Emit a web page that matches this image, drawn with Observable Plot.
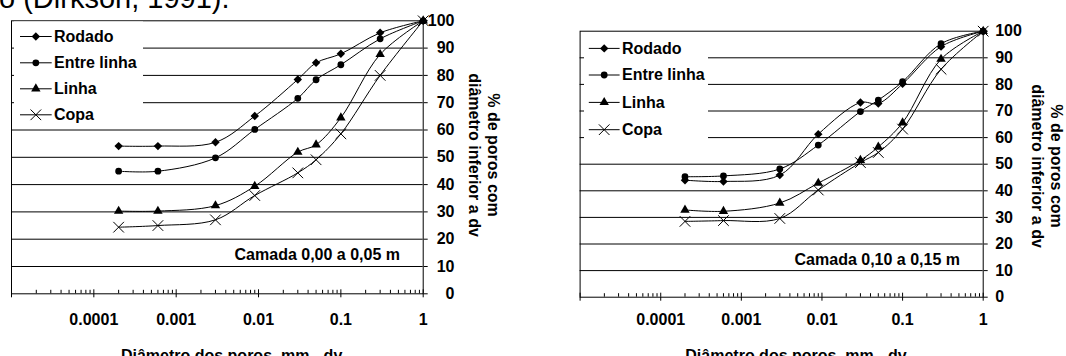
<!DOCTYPE html>
<html><head><meta charset="utf-8">
<script src="https://cdn.jsdelivr.net/npm/d3@7"></script>
<script src="https://cdn.jsdelivr.net/npm/@observablehq/plot@0.6"></script>
<style>
html,body{margin:0;padding:0;background:#fff;}
#wrap{position:relative;width:1066px;height:356px;overflow:hidden;background:#fff;}
#wrap > svg{position:absolute;top:0;}
</style></head><body><div id="wrap"></div>
<script>
// ---- data ----
const diametros = [0.0002, 0.0006, 0.003, 0.009, 0.03, 0.05, 0.1, 0.3, 1];
const series = ["Rodado", "Entre linha", "Linha", "Copa"];
// Camada 0,00 a 0,05 m
const rodadoA = [54.1, 54.1, 55.5, 65.1, 78.5, 84.6, 87.9, 95.6, 100];
const entreA  = [44.9, 44.9, 49.8, 60.2, 71.6, 78.4, 83.9, 93.4, 100];
const linhaA  = [30.3, 30.3, 32.3, 39.4, 51.9, 54.6, 64.5, 87.7, 100];
const copaA   = [24.4, 25.0, 27.1, 36.0, 44.3, 49.1, 58.6, 80.0, 100];
// Camada 0,10 a 0,15 m
const rodadoB = [44.0, 43.5, 45.9, 61.3, 73.2, 72.8, 80.2, 94.2, 100];
const entreB  = [45.3, 45.6, 48.2, 57.2, 69.8, 74.1, 81.0, 95.3, 100];
const linhaB  = [32.8, 32.3, 35.4, 42.9, 51.5, 56.5, 65.6, 89.5, 100];
const copaB   = [28.5, 28.8, 29.6, 40.3, 50.6, 54.4, 63.2, 85.7, 100];
const xTicks = [1e-5, 1e-4, 1e-3, 1e-2, 1e-1, 1];
const xTickLabels = ["", "0.0001", "0.001", "0.01", "0.1", "1"];
const yTicks = [0, 10, 20, 30, 40, 50, 60, 70, 80, 90, 100];
const gridY = [10, 20, 30, 40, 50, 60, 70, 80, 90];
const camadas = ["Camada 0,00 a 0,05 m", "Camada 0,10 a 0,15 m"];
const yTitle = ["% de poros com", "diâmetro inferior a dv"];
const xTitle = "Diâmetro dos poros, mm - dv";
const topText = "o (Dirkson, 1991).";

const FONT = "Liberation Sans, Arial, sans-serif";
const symbols = {"Rodado": {s: "diamond2", r: 3.8, fill: true}, "Entre linha": {s: "circle", r: 3.4, fill: true},
                 "Linha": {s: "triangle", r: 3.5, fill: true}, "Copa": {s: "times", r: 4.9, fill: false}};
const minorTicks = [];
for (let k = -5; k < 0; k++) for (let m = 2; m < 10; m++) minorTicks.push(m * Math.pow(10, k));

function chart(vals, o) {
  const rows = [];
  series.forEach((s, i) => diametros.forEach((d, j) => rows.push({serie: s, d, v: vals[i][j]})));
  const innerH = o.height - o.marginTop - o.marginBottom;
  const dots = series.map(s => {
    const sy = symbols[s];
    return Plot.dot(rows.filter(r => r.serie === s), sy.fill
      ? {x: "d", y: "v", symbol: () => sy.s, r: sy.r, fill: "#000", stroke: "none"}
      : {x: "d", y: "v", symbol: () => sy.s, r: sy.r, fill: "none", stroke: "#000", strokeWidth: 1});
  });
  return Plot.plot({
    width: o.width, height: o.height,
    marginLeft: o.marginLeft, marginRight: o.marginRight, marginTop: o.marginTop, marginBottom: o.marginBottom,
    x: {type: "log", domain: [1e-5, 1]},
    y: {domain: [0, 100]},
    symbol: {type: "identity"},
    style: {fontFamily: FONT, fontSize: "16px", fontWeight: "bold", color: "#000", background: "transparent", overflow: "visible"},
    marks: [
      Plot.ruleY(gridY, {y: d => d, stroke: "#000", strokeWidth: 1}),
      Plot.frame({stroke: "#000"}),
      Plot.tickX(minorTicks, {x: d => d, insetTop: innerH - 3.5, stroke: "#000"}),
      Plot.tickX(xTicks, {x: d => d, insetTop: innerH - 4, stroke: "#000"}),
      Plot.axisX({ticks: xTicks, tickFormat: d => xTickLabels[xTicks.indexOf(d)], tickSize: 4, tickPadding: o.xPad, label: null, stroke: "#000"}),
      Plot.axisY({anchor: "right", ticks: yTicks, tickSize: 4, tickPadding: o.yPad, textAnchor: o.yAnchor, label: null, stroke: "#000"}),
      Plot.line(rows, {x: "d", y: "v", z: "serie", curve: "catmull-rom", stroke: "#000", strokeWidth: 1}),
      ...dots
    ]
  });
}

const wrap = document.getElementById("wrap");
const c1 = chart([rodadoA, entreA, linhaA, copaA], {width: 540, height: 356, marginLeft: 11, marginRight: 117.3, marginTop: 20.3, marginBottom: 62.7, xPad: 16, yPad: 27.3, yAnchor: "end"});
c1.style.left = "0px";
wrap.appendChild(c1);
const c2 = chart([rodadoB, entreB, linhaB, copaB], {width: 526, height: 356, marginLeft: 39.6, marginRight: 83.3, marginTop: 30.7, marginBottom: 59.3, xPad: 12.7, yPad: 8, yAnchor: "start"});
c2.style.left = "540px";
wrap.appendChild(c2);

// ---- overlay: legends & titles ----
const ov = d3.select(wrap).append("svg").attr("width", 1066).attr("height", 356)
  .style("left", "0px").style("top", "0px")
  .attr("font-family", FONT).attr("font-weight", "bold").attr("font-size", 16).attr("fill", "#000");

ov.append("text").attr("x", -1).attr("y", 8).attr("font-weight", "normal").attr("font-size", 29).text(topText);

const d3sym = {diamond2: d3.symbolDiamond2, circle: d3.symbolCircle, triangle: d3.symbolTriangle, times: d3.symbolTimes};
function legend(L) {
  const g = ov.append("g");
  g.append("rect").attr("x", L.x0).attr("y", L.y0).attr("width", L.x1 - L.x0).attr("height", L.y1 - L.y0).attr("fill", "#fff");
  series.forEach((s, i) => {
    const y = L.rows[i];
    g.append("line").attr("x1", L.lx0).attr("x2", L.lx1).attr("y1", y + 0.5).attr("y2", y + 0.5).attr("stroke", "#000");
    const sy = symbols[s];
    g.append("path").attr("transform", `translate(${(L.lx0 + L.lx1) / 2},${y + 0.5})`)
      .attr("d", d3.symbol().type(d3sym[sy.s]).size(Math.PI * sy.r * sy.r)())
      .attr("fill", sy.fill ? "#000" : "none").attr("stroke", sy.fill ? "none" : "#000");
    g.append("text").attr("x", L.tx).attr("y", y).attr("dy", "0.36em").text(s);
  });
}
legend({x0: 14, x1: 143, y0: 21.5, y1: 126, rows: [36, 62.3, 88.3, 114.3], lx0: 20, lx1: 51.7, tx: 54});
legend({x0: 584, x1: 708, y0: 32, y1: 148, rows: [47.9, 74.5, 101.9, 129.2], lx0: 588.8, lx1: 619.6, tx: 622});

ov.append("text").attr("x", 400).attr("y", 254).attr("dy", "0.36em").attr("text-anchor", "end").text(camadas[0]);
ov.append("text").attr("x", 960).attr("y", 258.8).attr("dy", "0.36em").attr("text-anchor", "end").text(camadas[1]);

function ytitle(x1, x2, y) {
  ov.append("text").attr("transform", `translate(${x1},${y}) rotate(90)`).attr("text-anchor", "middle").attr("dy", "0.36em").text(yTitle[0]);
  ov.append("text").attr("transform", `translate(${x2},${y}) rotate(90)`).attr("text-anchor", "middle").attr("dy", "0.36em").text(yTitle[1]);
}
ytitle(494, 475, 155);
ytitle(1057, 1038, 166);

ov.append("text").attr("x", 231.6).attr("y", 360.5).attr("text-anchor", "middle").text(xTitle);
ov.append("text").attr("x", 796).attr("y", 360.5).attr("text-anchor", "middle").text(xTitle);
</script></body></html>
